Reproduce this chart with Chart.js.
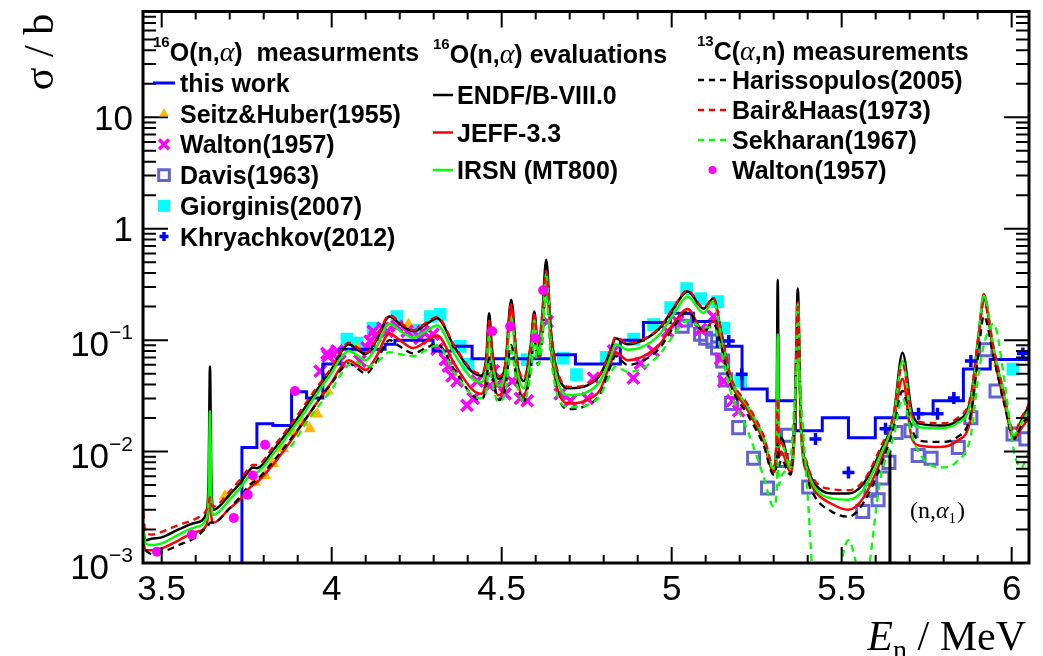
<!DOCTYPE html>
<html>
<head>
<meta charset="utf-8">
<title>16O(n,α) cross section</title>
<script src="https://cdn.jsdelivr.net/npm/chart.js@4.4.1/dist/chart.umd.min.js"></script>
<style>
  html, body { margin: 0; padding: 0; background: #fff; }
  canvas { display: block; }
</style>
</head>
<body>
<canvas id="xsChart" width="1043" height="656"></canvas>
<script>
// Neutron energy grid (MeV) shared by the evaluated and 13C(a,n) curves
const energyGrid = [
  3.444, 3.452, 3.47, 3.50, 3.55, 3.60, 3.632, 3.638, 3.642, 3.646,
  3.652, 3.70, 3.73, 3.755, 3.768, 3.78, 3.83, 3.88, 3.93, 3.975,
  4.00, 4.025, 4.05, 4.075, 4.10, 4.13, 4.17, 4.20, 4.24, 4.28,
  4.31, 4.36, 4.41, 4.44, 4.455, 4.463, 4.472, 4.49, 4.51, 4.528,
  4.545, 4.565, 4.585, 4.596, 4.607, 4.618, 4.631, 4.645, 4.672, 4.70,
  4.75, 4.79, 4.82, 4.835, 4.87, 4.91, 4.965, 5.005, 5.047, 5.094,
  5.123, 5.145, 5.173, 5.225, 5.27, 5.30, 5.308, 5.312, 5.316, 5.322,
  5.35, 5.362, 5.371, 5.38, 5.40, 5.42, 5.47, 5.52, 5.565, 5.615,
  5.652, 5.679, 5.706, 5.73, 5.79, 5.84, 5.88, 5.903, 5.918, 5.947,
  5.978, 6.007, 6.028, 6.055
];

// Evaluations, sigma in barn on energyGrid
const endfValues = [
  0.0022, 0.0016, 0.00165, 0.0017, 0.0020, 0.0023, 0.0028, 0.006, 0.058, 0.006,
  0.0030, 0.0041, 0.0052, 0.0066, 0.0072, 0.0071, 0.0105, 0.0165, 0.027, 0.043,
  0.055, 0.076, 0.092, 0.083, 0.075, 0.098, 0.163, 0.140, 0.120, 0.140,
  0.157, 0.088, 0.053, 0.048, 0.072, 0.174, 0.080, 0.045, 0.058, 0.230,
  0.065, 0.043, 0.088, 0.181, 0.088, 0.147, 0.526, 0.120, 0.043, 0.037,
  0.039, 0.049, 0.080, 0.104, 0.092, 0.098, 0.128, 0.192, 0.273, 0.192,
  0.236, 0.120, 0.046, 0.0247, 0.0133, 0.0068, 0.0125, 0.349, 0.0125, 0.0133,
  0.0072, 0.019, 0.29, 0.019, 0.0072, 0.0052, 0.0042, 0.0042, 0.0052, 0.0102,
  0.0201, 0.077, 0.0232, 0.0178, 0.0171, 0.0189, 0.0303, 0.113, 0.236, 0.080,
  0.030, 0.0133, 0.0189, 0.027
];
const jeffValues = [
  0.0018, 0.0013, 0.0013, 0.00135, 0.0016, 0.0019, 0.0022, 0.0030, 0.0042, 0.0026,
  0.0023, 0.0031, 0.0037, 0.0046, 0.0050, 0.0053, 0.0078, 0.0125, 0.021, 0.033,
  0.042, 0.056, 0.066, 0.060, 0.054, 0.070, 0.115, 0.100, 0.085, 0.098,
  0.110, 0.062, 0.037, 0.033, 0.05, 0.14, 0.058, 0.032, 0.045, 0.20,
  0.048, 0.031, 0.07, 0.165, 0.07, 0.12, 0.35, 0.085, 0.031, 0.027,
  0.029, 0.036, 0.062, 0.078, 0.066, 0.07, 0.092, 0.14, 0.19, 0.12,
  0.15, 0.10, 0.043, 0.023, 0.0125, 0.0065, 0.009, 0.0286, 0.009, 0.010,
  0.0065, 0.016, 0.22, 0.016, 0.0062, 0.0045, 0.0034, 0.0030, 0.0039, 0.0083,
  0.0178, 0.045, 0.0133, 0.0113, 0.011, 0.0125, 0.020, 0.10, 0.26, 0.075,
  0.028, 0.013, 0.016, 0.021
];
const irsnValues = [
  0.0024, 0.0015, 0.00145, 0.0015, 0.0018, 0.0021, 0.0025, 0.004, 0.023, 0.004,
  0.0027, 0.0037, 0.0047, 0.0059, 0.0064, 0.0065, 0.0097, 0.0152, 0.025, 0.040,
  0.051, 0.068, 0.080, 0.073, 0.066, 0.085, 0.140, 0.122, 0.105, 0.122,
  0.135, 0.076, 0.046, 0.042, 0.06, 0.11, 0.066, 0.039, 0.05, 0.16,
  0.056, 0.037, 0.075, 0.15, 0.075, 0.12, 0.40, 0.10, 0.037, 0.032,
  0.034, 0.043, 0.070, 0.092, 0.082, 0.086, 0.113, 0.17, 0.245, 0.175,
  0.225, 0.115, 0.046, 0.025, 0.0135, 0.0070, 0.011, 0.113, 0.011, 0.012,
  0.0072, 0.017, 0.21, 0.017, 0.0068, 0.0048, 0.0038, 0.0037, 0.0046, 0.0095,
  0.019, 0.065, 0.020, 0.0165, 0.0162, 0.0180, 0.028, 0.11, 0.25, 0.085,
  0.032, 0.014, 0.018, 0.025
];

// 13C(a,n) measurements converted to 16O(n,a), same grid (null = no data)
const harissopulosValues = [
  null, 0.0013, 0.0012, 0.00125, 0.00145, 0.0017, 0.0021, 0.0022, 0.0023, 0.0023,
  0.0023, 0.0031, 0.0039, 0.0049, 0.0053, 0.0056, 0.0083, 0.013, 0.021, 0.033,
  0.041, 0.053, 0.062, 0.056, 0.050, 0.063, 0.10, 0.088, 0.076, 0.086,
  0.092, 0.055, 0.033, 0.029, 0.04, 0.07, 0.05, 0.029, 0.036, 0.09,
  0.042, 0.028, 0.055, 0.10, 0.06, 0.09, 0.28, 0.08, 0.028, 0.024,
  0.026, 0.033, 0.058, 0.072, 0.060, 0.064, 0.085, 0.13, 0.18, 0.12,
  0.14, 0.09, 0.040, 0.021, 0.0115, 0.0062, 0.0075, 0.012, 0.0075, 0.0085,
  0.0062, 0.02, 0.157, 0.02, 0.0058, 0.0040, 0.0029, 0.0026, 0.0035, 0.0075,
  0.016, 0.035, 0.016, 0.0125, 0.0122, 0.0135, 0.022, 0.08, 0.165, 0.07,
  0.027, 0.013, 0.017, 0.022
];
const bairHaasValues = [
  0.0037, 0.0019, 0.0018, 0.0019, 0.0022, 0.0025, 0.0030, 0.0034, 0.0039, 0.0034,
  0.0032, 0.0044, 0.0056, 0.0070, 0.0076, 0.0076, 0.0112, 0.0175, 0.029, 0.045,
  0.057, 0.078, 0.095, 0.086, 0.077, 0.10, 0.168, 0.145, 0.123, 0.145,
  0.162, 0.09, 0.055, 0.05, 0.07, 0.15, 0.08, 0.047, 0.06, 0.21,
  0.067, 0.045, 0.09, 0.17, 0.09, 0.15, 0.42, 0.12, 0.045, 0.038,
  0.040, 0.050, 0.082, 0.107, 0.094, 0.10, 0.13, 0.195, 0.28, 0.195,
  0.24, 0.125, 0.048, 0.026, 0.014, 0.0075, 0.011, 0.03, 0.011, 0.012,
  0.0076, 0.02, 0.20, 0.02, 0.0076, 0.0055, 0.0046, 0.0045, 0.0055, 0.011,
  0.021, 0.06, 0.022, 0.0185, 0.018, 0.020, 0.032, 0.11, 0.22, 0.085,
  0.033, 0.015, 0.020, 0.028
];
const sekharanValues = [
  null, null, null, null, null, null, null, null, null, null,
  null, null, null, null, null, null, null, 0.011, 0.019, 0.029,
  0.036, 0.048, 0.060, 0.063, 0.058, 0.062, 0.078, 0.075, 0.072, 0.082,
  0.090, 0.052, 0.033, 0.030, 0.035, 0.06, 0.042, 0.028, 0.033, 0.08,
  0.04, 0.028, 0.05, 0.09, 0.06, 0.09, 0.25, 0.07, 0.028, 0.025,
  0.026, 0.032, 0.050, 0.058, 0.052, 0.055, 0.075, 0.11, 0.15, 0.13,
  0.13, 0.08, 0.035, 0.015, 0.006, 0.0032, 0.004, 0.008, 0.005, 0.006,
  0.009, 0.03, 0.065, 0.03, 0.004, 0.0006, 0.0005, 0.0016, 0.0006, 0.006,
  0.0133, 0.030, 0.0143, 0.0095, 0.0072, 0.0082, 0.014, 0.05, 0.09, 0.14,
  0.045, 0.010, 0.0072, 0.011
];

// This work: histogram bin edges (MeV) and contents (b)
const thisWorkEdges = [
  3.736, 3.780, 3.827, 3.882, 3.926, 3.974, 4.024, 4.157, 4.186, 4.298,
  4.354, 4.413, 4.652, 4.717, 4.849, 4.917, 4.996, 5.064, 5.134, 5.207,
  5.281, 5.364, 5.443, 5.520, 5.599, 5.693, 5.769, 5.858, 5.937, 6.06
];
const thisWorkValues = [
  0.0109, 0.0178, 0.0171, 0.0345, 0.0303, 0.061, 0.083, 0.092, 0.100, 0.080,
  0.088, 0.068, 0.074, 0.061, 0.100, 0.144, 0.174, 0.147, 0.088, 0.0365,
  0.0286, 0.0154, 0.0201, 0.0133, 0.0201, 0.0218, 0.0286, 0.055, 0.067
];

// Older 16O(n,a) measurements
const seitzEnergy = [3.686, 3.774, 3.804, 3.827, 3.857, 3.886, 3.916, 3.936, 3.957, 3.989, 4.075, 4.186, 4.226];
const seitzXs = [0.0040, 0.0053, 0.0061, 0.0078, 0.0106, 0.0149, 0.0181, 0.0160, 0.0217, 0.035, 0.084, 0.133, 0.138];

const waltonNaEnergy = [
  3.966, 3.986, 3.989, 4.016, 4.024, 4.083, 4.104, 4.113, 4.122, 4.128,
  4.151, 4.163, 4.192, 4.222, 4.260, 4.269, 4.298, 4.310, 4.334, 4.343,
  4.354, 4.369, 4.398, 4.416, 4.428, 4.466, 4.475, 4.487, 4.510, 4.531,
  4.555, 4.575, 4.634, 4.672, 4.702, 4.752, 4.770, 4.829, 4.887, 4.908,
  4.946, 4.988, 5.017, 5.085, 5.123, 5.144, 5.153, 5.179, 5.197
];
const waltonNaXs = [
  0.0528, 0.076, 0.072, 0.080, 0.065, 0.065, 0.085, 0.098, 0.120, 0.108,
  0.128, 0.120, 0.133, 0.120, 0.104, 0.120, 0.113, 0.083, 0.067, 0.0585,
  0.0477, 0.043, 0.026, 0.030, 0.043, 0.039, 0.053, 0.040, 0.033, 0.043,
  0.030, 0.0286, 0.147, 0.033, 0.0286, 0.030, 0.0457, 0.080, 0.0457, 0.062,
  0.080, 0.120, 0.147, 0.125, 0.163, 0.068, 0.043, 0.0286, 0.0232
];

const davisEnergy = [
  5.031, 5.041, 5.085, 5.100, 5.121, 5.135, 5.150, 5.159, 5.176, 5.197,
  5.241, 5.282, 5.324, 5.341, 5.403, 5.562, 5.586, 5.607, 5.621, 5.639,
  5.660, 5.704, 5.725, 5.763, 5.843, 5.880, 5.924, 5.954, 6.004, 6.042
];
const davisXs = [
  0.133, 0.152, 0.113, 0.104, 0.098, 0.085, 0.065, 0.044, 0.027, 0.0164,
  0.0087, 0.0047, 0.0083, 0.0140, 0.0048, 0.0029, 0.0045, 0.0037, 0.0058, 0.0080,
  0.0148, 0.0154, 0.0092, 0.0087, 0.0109, 0.0201, 0.082, 0.035, 0.0144, 0.0130
];

const giorginisEnergy = [
  4.045, 4.075, 4.122, 4.192, 4.245, 4.290, 4.319, 4.378, 4.401, 4.575,
  4.681, 4.720, 4.808, 4.888, 4.947, 4.997, 5.044, 5.085, 5.135, 5.153,
  5.203, 6.004
];
const giorginisXs = [
  0.102, 0.094, 0.128, 0.163, 0.123, 0.163, 0.170, 0.088, 0.061, 0.067,
  0.069, 0.049, 0.070, 0.102, 0.138, 0.196, 0.29, 0.236, 0.222, 0.128,
  0.043, 0.055
];

const khryachkovEnergy = [5.168, 5.206, 5.423, 5.520, 5.629, 5.726, 5.782, 5.830, 5.880, 6.033];
const khryachkovXs = [0.098, 0.0495, 0.013, 0.0065, 0.016, 0.0218, 0.0218, 0.0303, 0.065, 0.076];

// 13C(a,n) Walton points
const waltonCaEnergy = [3.486, 3.589, 3.712, 3.753, 3.768, 3.804, 3.892, 4.472, 4.525, 4.599, 4.622];
const waltonCaXs = [0.00126, 0.00179, 0.00254, 0.0041, 0.0061, 0.0115, 0.035, 0.12, 0.133, 0.104, 0.28];

// (n,a1) threshold marker
const alpha1Energy = [5.642, 5.642];
const alpha1Xs = [0.0102, 0.0001];

// axis ticks
const xTickValues = [3.5, 4, 4.5, 5, 5.5, 6];
const yTickLabels = [
  { v: 1e-3, base: '10', exp: '\u22123' },
  { v: 1e-2, base: '10', exp: '\u22122' },
  { v: 1e-1, base: '10', exp: '\u22121' },
  { v: 1, base: '1', exp: '' },
  { v: 10, base: '10', exp: '' }
];

const SANS = '"Liberation Sans", Arial, Helvetica, sans-serif';
const SERIF = '"Liberation Serif", "Times New Roman", serif';

function gridCurve(values) {
  const pts = [];
  values.forEach((v, i) => { if (v !== null) pts.push({ x: energyGrid[i], y: v }); });
  return pts;
}

function pairs(es, vs) {
  return es.map((e, i) => ({ x: e, y: vs[i] }));
}

function histogram(edges, values) {
  const pts = [{ x: edges[0], y: 1e-5 }];
  values.forEach((v, i) => {
    pts.push({ x: edges[i], y: v }, { x: edges[i + 1], y: v });
  });
  return pts;
}

function lineSet(key, label, data, color, width, dash, order, smooth = true) {
  return {
    key, label, data, order,
    showLine: true,
    borderColor: color,
    backgroundColor: color,
    borderWidth: width,
    borderDash: dash,
    pointRadius: 0,
    pointHoverRadius: 0,
    cubicInterpolationMode: smooth ? 'monotone' : 'default',
    tension: 0,
    fill: false
  };
}

function markerSet(key, label, data, style, radius, fillColor, edgeColor, edgeWidth, order, legendRadius) {
  return {
    key, label, data, order, legendRadius,
    showLine: false,
    pointStyle: style,
    pointRadius: radius,
    pointHoverRadius: radius,
    pointBackgroundColor: fillColor,
    pointBorderColor: edgeColor,
    pointBorderWidth: edgeWidth,
    backgroundColor: fillColor,
    borderColor: edgeColor
  };
}

const datasets = [
  markerSet('waltonCA', 'Walton(1957)', pairs(waltonCaEnergy, waltonCaXs), 'circle', 5, '#ff00ff', '#ff00ff', 0, 0, 4),
  markerSet('khryachkov', 'Khryachkov(2012)', pairs(khryachkovEnergy, khryachkovXs), 'cross', 6, '#0000ff', '#0000ff', 3.5, 0, 4.5),
  lineSet('sekharan', 'Sekharan(1967)', gridCurve(sekharanValues), '#00ff00', 2.3, [7, 5], 1),
  lineSet('bairHaas', 'Bair&Haas(1973)', gridCurve(bairHaasValues), '#ff0000', 2.3, [7, 5], 2),
  lineSet('harissopulos', 'Harissopulos(2005)', gridCurve(harissopulosValues), '#000000', 2.3, [7, 5], 3),
  lineSet('irsn', 'IRSN (MT800)', gridCurve(irsnValues), '#00ff00', 2.5, [], 4),
  lineSet('jeff', 'JEFF-3.3', gridCurve(jeffValues), '#ff0000', 2.5, [], 5),
  lineSet('endf', 'ENDF/B-VIII.0', gridCurve(endfValues), '#000000', 2.5, [], 6),
  lineSet('alpha1', '(n,\u03b11)', pairs(alpha1Energy, alpha1Xs), '#000000', 3, [], 7, false),
  lineSet('thisWork', 'this work', histogram(thisWorkEdges, thisWorkValues), '#0000ff', 3, [], 8, false),
  markerSet('waltonNA', 'Walton(1957)', pairs(waltonNaEnergy, waltonNaXs), 'crossRot', 8, '#ff00ff', '#ff00ff', 3.5, 9, 7),
  markerSet('seitz', 'Seitz&Huber(1955)', pairs(seitzEnergy, seitzXs), 'triangle', 7, '#ffb700', '#ffb700', 0, 10, 5.5),
  markerSet('davis', 'Davis(1963)', pairs(davisEnergy, davisXs), 'rect', 8.5, 'rgba(0,0,0,0)', '#6262d2', 3, 11, 7.5),
  markerSet('giorginis', 'Giorginis(2007)', pairs(giorginisEnergy, giorginisXs), 'rect', 9, '#00ffff', '#00ffff', 0, 12, 8.5)
];

// Frame, ROOT-style inward ticks, tick labels, axis titles and the (n,a1) note
const frameAxes = {
  id: 'frameAxes',
  afterDraw(chart) {
    const { ctx, chartArea: a, scales: { x, y } } = chart;
    ctx.save();
    ctx.strokeStyle = '#000';
    ctx.fillStyle = '#000';

    ctx.lineWidth = 2;
    ctx.beginPath();
    for (let i = 34; i <= 61; i++) {
      const px = x.getPixelForValue(i / 10);
      if (px <= a.left + 1 || px >= a.right - 1) continue;
      const len = i % 5 === 0 ? 16 : 8;
      ctx.moveTo(px, a.bottom); ctx.lineTo(px, a.bottom - len);
      ctx.moveTo(px, a.top); ctx.lineTo(px, a.top + len);
    }
    for (let e = -3; e <= 1; e++) {
      for (let m = 1; m <= 9; m++) {
        const py = y.getPixelForValue(m * Math.pow(10, e));
        if (py < a.top + 1 || py > a.bottom) continue;
        const len = m === 1 ? 25 : 13;
        ctx.moveTo(a.left, py); ctx.lineTo(a.left + len, py);
        ctx.moveTo(a.right, py); ctx.lineTo(a.right - len, py);
      }
    }
    ctx.stroke();

    ctx.lineWidth = 3;
    ctx.strokeRect(a.left, a.top, a.right - a.left, a.bottom - a.top);

    // x tick labels
    ctx.font = '35px ' + SANS;
    ctx.textAlign = 'center';
    ctx.textBaseline = 'alphabetic';
    xTickValues.forEach(v => ctx.fillText(String(v), x.getPixelForValue(v), a.bottom + 37));

    // y tick labels with superscript exponents
    ctx.textAlign = 'right';
    const labelRight = a.left - 10;
    yTickLabels.forEach(t => {
      const py = y.getPixelForValue(t.v);
      if (t.exp) {
        ctx.font = '21px ' + SANS;
        const w = ctx.measureText(t.exp).width;
        ctx.fillText(t.exp, labelRight, py - 1);
        ctx.font = '35px ' + SANS;
        ctx.fillText(t.base, labelRight - w, py + 16);
      } else {
        ctx.font = '35px ' + SANS;
        ctx.fillText(t.base, labelRight, py + 12.5);
      }
    });

    // y title
    ctx.save();
    ctx.translate(53, 52);
    ctx.rotate(-Math.PI / 2);
    ctx.textAlign = 'center';
    ctx.font = '42px ' + SERIF;
    ctx.fillText('\u03c3 / b', 0, 0);
    ctx.restore();

    // x title: E_n / MeV
    ctx.textAlign = 'left';
    const base = 650;
    ctx.font = 'italic 42px ' + SERIF;
    const wE = ctx.measureText('E').width;
    ctx.font = '28px ' + SERIF;
    const wN = ctx.measureText('n').width;
    ctx.font = '42px ' + SERIF;
    const wRest = ctx.measureText(' / MeV').width;
    let tx = a.right - 3 - (wE + wN + wRest);
    ctx.font = 'italic 42px ' + SERIF;
    ctx.fillText('E', tx, base); tx += wE;
    ctx.font = '28px ' + SERIF;
    ctx.fillText('n', tx, base + 9); tx += wN;
    ctx.font = '42px ' + SERIF;
    ctx.fillText(' / MeV', tx, base);

    // (n,a1) note beside the threshold line
    let nx = x.getPixelForValue(alpha1Energy[0]) + 20;
    const ny = 518;
    ctx.font = '24px ' + SERIF;
    ctx.fillText('(n,', nx, ny); nx += ctx.measureText('(n,').width;
    ctx.font = 'italic 24px ' + SERIF;
    ctx.fillText('\u03b1', nx, ny); nx += ctx.measureText('\u03b1').width;
    ctx.font = '15px ' + SERIF;
    ctx.fillText('1', nx, ny + 5); nx += ctx.measureText('1').width + 1;
    ctx.font = '24px ' + SERIF;
    ctx.fillText(')', nx, ny);
    ctx.restore();
  }
};

// Three-column legend: 16O(n,a) data, evaluations, 13C(a,n) data
const legendColumns = [
  { mass: '16', before: 'O(n,', after: ')  measurments', x: 153, titleBase: 61,
    symbolX: 164, half: 11, textX: 180, firstY: 83, step: 30.7,
    keys: ['thisWork', 'seitz', 'waltonNA', 'davis', 'giorginis', 'khryachkov'] },
  { mass: '16', before: 'O(n,', after: ') evaluations', x: 433, titleBase: 63,
    symbolX: 443, half: 10, textX: 457, firstY: 95, step: 37.5,
    keys: ['endf', 'jeff', 'irsn'] },
  { mass: '13', before: 'C(', after: ',n) measurements', x: 697, titleBase: 60,
    symbolX: 712.5, half: 14.5, textX: 732, firstY: 80, step: 30,
    keys: ['harissopulos', 'bairHaas', 'sekharan', 'waltonCA'] }
];

const LEGEND_FONT = 'bold 25px ' + SANS;

const columnLegend = {
  id: 'columnLegend',
  afterDraw(chart) {
    const ctx = chart.ctx;
    const byKey = {};
    chart.data.datasets.forEach(ds => { byKey[ds.key] = ds; });
    ctx.save();
    ctx.fillStyle = '#000';
    ctx.textAlign = 'left';
    ctx.textBaseline = 'alphabetic';
    legendColumns.forEach(col => {
      let tx = col.x;
      ctx.font = 'bold 15px ' + SANS;
      ctx.fillText(col.mass, tx, col.titleBase - 14);
      tx += ctx.measureText(col.mass).width;
      ctx.font = LEGEND_FONT;
      ctx.fillText(col.before, tx, col.titleBase);
      tx += ctx.measureText(col.before).width;
      ctx.font = 'italic 28px ' + SERIF;
      ctx.fillText('\u03b1', tx, col.titleBase);
      tx += ctx.measureText('\u03b1').width;
      ctx.font = LEGEND_FONT;
      ctx.fillText(col.after, tx, col.titleBase);

      col.keys.forEach((key, i) => {
        const ds = byKey[key];
        const cy = col.firstY + i * col.step;
        ctx.save();
        if (ds.showLine) {
          ctx.strokeStyle = ds.borderColor;
          ctx.lineWidth = Math.min(ds.borderWidth, 3);
          ctx.setLineDash(ds.borderDash.length ? [6, 5] : []);
          ctx.beginPath();
          ctx.moveTo(col.symbolX - col.half, cy);
          ctx.lineTo(col.symbolX + col.half, cy);
          ctx.stroke();
        } else {
          ctx.fillStyle = ds.pointBackgroundColor;
          ctx.strokeStyle = ds.pointBorderColor;
          ctx.lineWidth = ds.pointBorderWidth;
          Chart.helpers.drawPoint(ctx, {
            pointStyle: ds.pointStyle, rotation: 0,
            radius: ds.legendRadius, borderWidth: ds.pointBorderWidth
          }, col.symbolX, cy);
        }
        ctx.restore();
        ctx.font = LEGEND_FONT;
        ctx.fillText(ds.label, col.textX, cy + 9);
      });
    });
    ctx.restore();
  }
};

new Chart(document.getElementById('xsChart'), {
  type: 'scatter',
  data: { datasets },
  options: {
    responsive: false,
    animation: false,
    events: [],
    layout: { padding: { left: 143, right: 14, top: 8, bottom: 93 } },
    scales: {
      x: { type: 'linear', display: false, min: 3.445, max: 6.051 },
      y: { type: 'logarithmic', display: false, min: 0.001, max: 89 }
    },
    plugins: {
      legend: { display: false },
      tooltip: { enabled: false }
    }
  },
  plugins: [frameAxes, columnLegend]
});
</script>
</body>
</html>
